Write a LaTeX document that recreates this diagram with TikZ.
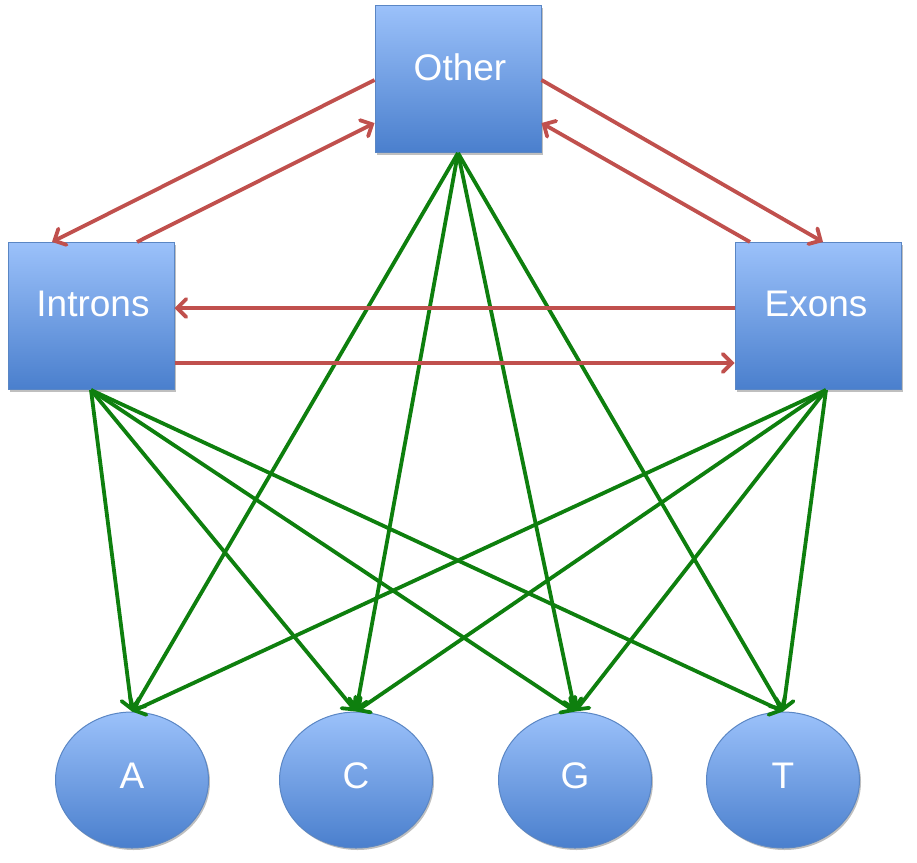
\documentclass[tikz,border=0pt]{standalone}
\usepackage{fontspec}
\setmainfont{Liberation Sans}
\usetikzlibrary{arrows.meta,shapes.geometric,shadows}
\definecolor{boxtop}{HTML}{9BC1FA}
\definecolor{boxbot}{HTML}{4A7FCD}
\definecolor{boxline}{HTML}{5A86C4}
\definecolor{redarrow}{HTML}{C0504D}
\definecolor{greenarrow}{HTML}{0E7F0E}
\tikzset{
  boxnode/.style={rectangle, draw=boxline, line width=1pt, top color=boxtop, bottom color=boxbot,
    minimum width=166pt, minimum height=147pt, inner sep=0pt,
    drop shadow={shadow xshift=1.5pt, shadow yshift=-2pt, opacity=0.25, fill=black}},
  basenode/.style={ellipse, draw=boxline, line width=1pt, top color=boxtop, bottom color=boxbot,
    minimum width=153pt, minimum height=136pt, inner sep=0pt,
    drop shadow={shadow xshift=1.5pt, shadow yshift=-2pt, opacity=0.25, fill=black}},
  boxlabel/.style={text=white, font=\fontsize{37}{40}\selectfont},
  redarr/.style={draw=redarrow, line width=3.8pt, -{Straight Barb[length=9pt,width=18pt,line width=3.8pt,line cap=round]}},
  greenarr/.style={draw=greenarrow, line width=3.8pt, -{Straight Barb[length=9pt,width=18pt,line width=3.8pt,line cap=round]}}
}
\begin{document}
\begin{tikzpicture}[x=1pt,y=-1pt]
\useasboundingbox (0,0) rectangle (917,862);
% nodes
\node[boxnode, label={[boxlabel, yshift=12pt, xshift=2pt]center:Other}] (other) at (458,79) {};
\node[boxnode, label={[boxlabel, yshift=12pt, xshift=2pt]center:Introns}] (introns) at (91,316) {};
\node[boxnode, label={[boxlabel, yshift=12pt, xshift=-2pt]center:Exons}] (exons) at (818,316) {};
\node[basenode, label={[boxlabel, yshift=4pt]center:A}] (A) at (132,780) {};
\node[basenode, label={[boxlabel, yshift=4pt]center:C}] (C) at (356,780) {};
\node[basenode, label={[boxlabel, yshift=4pt]center:G}] (G) at (575,780) {};
\node[basenode, label={[boxlabel, yshift=4pt]center:T}] (T) at (783,780) {};
% green arrows
\coordinate (os) at (other.south);
\coordinate (is) at (introns.south);
\coordinate (es) at ([xshift=8pt]exons.south);
\foreach \s in {os,is,es}{
  \foreach \t in {A,C,G,T}{
    \draw[greenarr] (\s) -- (\t.north);
  }
}
% red arrows
\draw[redarr] ([yshift=-1pt]other.west) -- ([xshift=-39pt]introns.north);
\draw[redarr] ([xshift=46pt]introns.north) -- ([yshift=-44pt]other.west);
\draw[redarr] ([yshift=-1pt]other.east) -- ([xshift=5pt]exons.north);
\draw[redarr] ([xshift=-68pt]exons.north) -- ([yshift=-44pt]other.east);
\draw[redarr] ([yshift=8pt]exons.west) -- ([yshift=8pt]introns.east);
\draw[redarr] ([yshift=-47pt]introns.east) -- ([yshift=-47pt]exons.west);
\end{tikzpicture}
\end{document}
